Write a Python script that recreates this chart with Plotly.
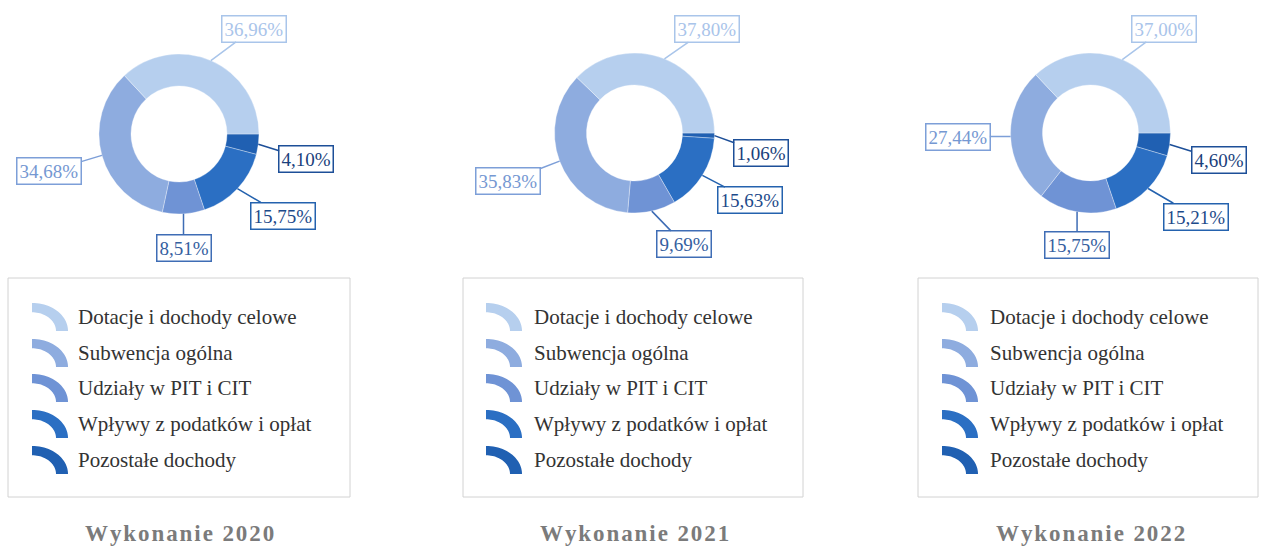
import numpy as np
import plotly.graph_objects as go

W, H = 1262, 549

# ---- data -------------------------------------------------------------
categories = [
    "Dotacje i dochody celowe",
    "Subwencja ogólna",
    "Udziały w PIT i CIT",
    "Wpływy z podatków i opłat",
    "Pozostałe dochody",
]
years = ["2020", "2021", "2022"]
shares_2020 = [36.96, 34.68, 8.51, 15.75, 4.10]
shares_2021 = [37.80, 35.83, 9.69, 15.63, 1.06]
shares_2022 = [37.00, 27.44, 15.75, 15.21, 4.60]
shares = [shares_2020, shares_2021, shares_2022]

# ---- styling ----------------------------------------------------------
slice_colors = ["#b6cfee", "#8eacdf", "#6f93d5", "#2b6fc3", "#2060b2"]
label_border = ["#a9c5ea", "#7d9fd8", "#3f6db5", "#2462ae", "#1d4f98"]
label_text = ["#a9c4ea", "#7598d2", "#35609f", "#1d4a8a", "#1a3f7c"]
SERIF = "Liberation Serif, Times New Roman, serif"

# panel geometry in pixels (x to the right, y downward)
panels = [
    dict(cx=179.0, cy=134.0, box=(8, 350), icon_x=32, text_x=76,
         offsets=[(43, -32), (-53, 16), (0, 34), (46, 27), (48, 15)]),
    dict(cx=634.5, cy=133.0, box=(463, 803), icon_x=486, text_x=532,
         offsets=[(43, -30), (-52, 20), (32, 33), (48, 25), (47, 17)]),
    dict(cx=1090.5, cy=133.0, box=(918, 1258), icon_x=942, text_x=988,
         offsets=[(42, -31), (-53, 0), (0, 33), (48, 28), (49, 15)]),
]
R = 80.0           # outer radius of each ring
HOLE = 0.6
LEG_TOP, LEG_BOTTOM = 278, 497
ROW_Y = [317, 353, 388, 424, 460]
TITLE_Y = 533


def fmt(v):
    return f"{v:.2f}".replace(".", ",") + "%"


def quarter_ring(x0, yc, ro=36.0, ri=24.0, sy=0.78, n=24):
    """Quarter of a ring (top-right quadrant) as an SVG path."""
    t = np.linspace(np.pi / 2, 0, n)
    pts = [(x0 + ro * np.cos(a), yc - ro * sy * np.sin(a)) for a in t]
    pts += [(x0 + ri * np.cos(a), yc - ri * sy * np.sin(a)) for a in t[::-1]]
    d = "M " + " L ".join(f"{x:.2f},{y:.2f}" for x, y in pts) + " Z"
    return d


fig = go.Figure()

# invisible trace so that a pixel-scaled cartesian frame exists
fig.add_trace(go.Scatter(x=[None], y=[None], mode="markers",
                         showlegend=False, hoverinfo="skip"))

annotations = []
shapes = []

for p, vals, year in zip(panels, shares, years):
    cx, cy = p["cx"], p["cy"]
    # slices run counterclockwise from 3 o'clock; plotly's clockwise mode
    # with the reversed order gives exactly that arrangement
    fig.add_trace(go.Pie(
        labels=categories[::-1],
        values=vals[::-1],
        hole=HOLE,
        sort=False,
        direction="clockwise",
        rotation=90,
        textinfo="none",
        hoverinfo="label+percent",
        showlegend=False,
        marker=dict(colors=slice_colors[::-1],
                    line=dict(color="rgba(255,255,255,0.55)", width=0.6)),
        domain=dict(x=[(cx - R) / W, (cx + R) / W],
                    y=[1 - (cy + R) / H, 1 - (cy - R) / H]),
    ))

    # boxed value labels with leader lines to the middle of each slice
    total = float(sum(vals))
    cum = np.cumsum([0.0] + list(vals))
    for i, v in enumerate(vals):
        mid = (cum[i] + v / 2.0) / total
        ang = 2 * np.pi * mid
        tx = cx + R * np.cos(ang)
        ty = cy - R * np.sin(ang)
        dx, dy = p["offsets"][i]
        annotations.append(dict(
            x=tx, y=ty, xref="x", yref="y",
            ax=dx, ay=dy, showarrow=True, arrowhead=0,
            arrowwidth=1.5, arrowcolor=label_border[i], standoff=0,
            text=fmt(v),
            font=dict(family=SERIF, size=19, color=label_text[i]),
            bgcolor="white", bordercolor=label_border[i],
            borderwidth=1.5, borderpad=2,
        ))

    # legend frame
    x0, x1 = p["box"]
    shapes.append(dict(type="rect", xref="x", yref="y",
                       x0=x0, x1=x1, y0=LEG_TOP, y1=LEG_BOTTOM,
                       line=dict(color="#d2d2d2", width=1),
                       fillcolor="rgba(0,0,0,0)", layer="below"))
    for i, name in enumerate(categories):
        ry = ROW_Y[i]
        shapes.append(dict(type="path", xref="x", yref="y",
                           path=quarter_ring(p["icon_x"], ry + 14),
                           fillcolor=slice_colors[i],
                           line=dict(width=0)))
        annotations.append(dict(
            x=p["text_x"], y=ry, xref="x", yref="y",
            xanchor="left", yanchor="middle", showarrow=False,
            text=name,
            font=dict(family=SERIF, size=21, color="#333333"),
        ))

    # panel caption, letter-spaced
    caption = "\u200a".join("Wykonanie " + year)
    annotations.append(dict(
        x=cx, y=TITLE_Y, xref="x", yref="y",
        xanchor="center", yanchor="middle", showarrow=False,
        text=caption,
        font=dict(family=SERIF, size=23, color="#7b7b7b", weight="bold"),
    ))

fig.update_layout(
    width=W, height=H,
    margin=dict(l=0, r=0, t=0, b=0),
    paper_bgcolor="white", plot_bgcolor="white",
    xaxis=dict(range=[0, W], visible=False, fixedrange=True),
    yaxis=dict(range=[H, 0], visible=False, fixedrange=True),
    annotations=annotations,
    shapes=shapes,
    showlegend=False,
)

fig.write_html("out.html")
